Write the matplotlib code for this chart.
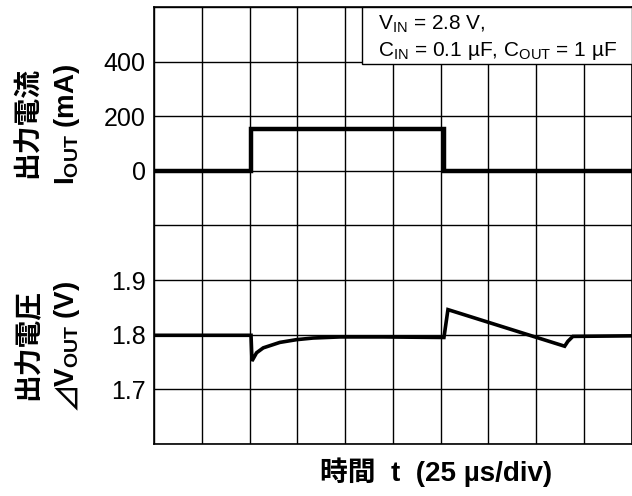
import numpy as np
import matplotlib
matplotlib.use("Agg")
import matplotlib.pyplot as plt
from matplotlib.patches import Rectangle

plt.rcParams['font.family'] = ['Liberation Sans', 'Noto Sans CJK JP', 'DejaVu Sans']
plt.rcParams['mathtext.fontset'] = 'custom'
plt.rcParams['mathtext.rm'] = 'Liberation Sans'
plt.rcParams['mathtext.it'] = 'Liberation Sans:italic'
plt.rcParams['mathtext.bf'] = 'Liberation Sans:bold'
plt.rcParams['mathtext.fallback'] = 'stixsans'

# ---- data ----
# output current step (time in µs, current in mA)
t_current = [0, 51, 51, 151.7, 151.7, 250]
i_current = [0, 0, 152, 152, 0, 0]

# output voltage response (time in µs, voltage in V)
t_voltage = [0, 50.8, 51.3, 53.7, 57.2, 65.9, 74.6, 83.3, 97.3, 120, 151.8,
             153.9, 215.0, 216.7, 219.3, 250]
v_voltage = [1.799, 1.799, 1.752, 1.767, 1.776, 1.786, 1.791, 1.794, 1.796, 1.796, 1.795,
             1.846, 1.779, 1.788, 1.797, 1.798]

x_ticks = np.arange(0, 251, 25)
current_grid = np.arange(-1000, 601, 200)
current_labels = [0, 200, 400]
voltage_labels = [1.7, 1.8, 1.9]

fig = plt.figure(figsize=(6.32, 4.96), dpi=100)
rect = [154 / 632, 52 / 496, 477.5 / 632, 437 / 496]

ax1 = fig.add_axes(rect)
ax1.set_xlim(0, 250)
ax1.set_ylim(-1000, 600)
ax1.set_xticks(x_ticks)
ax1.set_xticklabels([])
ax1.set_yticks(current_grid)
ax1.set_yticklabels([str(v) if v in current_labels else '' for v in current_grid])
ax1.grid(True, color='black', lw=1.0)
ax1.tick_params(length=0, labelsize=18, pad=6, colors='black')
for s in ax1.spines.values():
    s.set_color('black')
    s.set_linewidth(1.2)
ax1.plot(t_current, i_current, color='black', lw=3.2, solid_joinstyle='miter', zorder=3)

ax2 = fig.add_axes(rect, sharex=ax1)
ax2.patch.set_visible(False)
ax2.set_ylim(1.6, 2.4)
ax2.set_yticks(voltage_labels)
ax2.set_yticklabels([f"{v:.1f}" for v in voltage_labels])
ax2.tick_params(axis='y', length=0, labelsize=18, pad=6)
ax2.tick_params(axis='x', length=0, labelbottom=False)
for s in ax2.spines.values():
    s.set_visible(False)
ax2.plot(t_voltage, v_voltage, color='black', lw=2.6, solid_joinstyle='miter', zorder=3)

# annotation box
box_x0 = (362 - 154) / 477.5
box_y0 = (444 - 64) / 437
ax2.add_patch(Rectangle((box_x0, box_y0), 1 - box_x0, 1 - box_y0, transform=ax2.transAxes,
                        facecolor='white', edgecolor='black', lw=1.0, zorder=5, clip_on=False))
fig.text(378 / 632, 1 - 30 / 496, r"V$_\mathrm{IN}$ = 2.8 V,", fontsize=15, va='baseline', zorder=6)
fig.text(378 / 632, 1 - 56 / 496, r"C$_\mathrm{IN}$ = 0.1 µF, C$_\mathrm{OUT}$ = 1 µF", fontsize=15,
         va='baseline', zorder=6)

# y labels
fig.text(28 / 632, 1 - 123 / 496, "出力電流", rotation=90, ha='center', va='center',
         fontsize=20, fontweight='bold', family=['Noto Sans CJK JP'])
fig.text(67 / 632, 1 - 124 / 496, r"$\mathbf{I}_\mathbf{OUT}$ (mA)", rotation=90, ha='center', va='center',
         fontsize=20, fontweight='bold')
fig.text(28 / 632, 1 - 344 / 496, "出力電圧", rotation=90, ha='center', va='center',
         fontsize=20, fontweight='bold', family=['Noto Sans CJK JP'])
fig.text(67 / 632, 1 - 346 / 496, r"$\mathbf{⊿V}_\mathbf{OUT}$ (V)", rotation=90, ha='center', va='center',
         fontsize=20, fontweight='bold')

# x label
fig.text(436 / 632, 1 - 472 / 496, "時間  t  (25 µs/div)", ha='center', va='center',
         fontsize=20, fontweight='bold', family=['Liberation Sans', 'Noto Sans CJK JP'])

fig.savefig("out.png", dpi=100)
